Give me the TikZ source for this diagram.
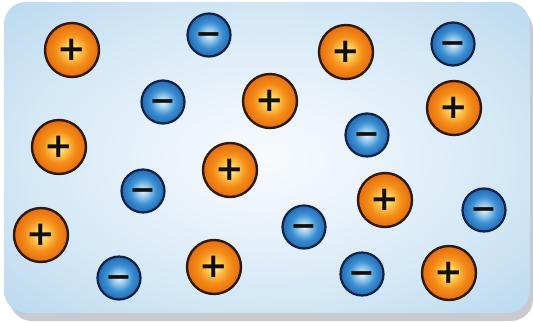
\documentclass[tikz,border=0pt]{standalone}
\usepackage{fontspec}
\newfontfamily\signfont{DejaVu Sans}
\definecolor{shadowgray}{RGB}{200,202,205}
\definecolor{plusrim}{RGB}{45,25,15}
\definecolor{minusrim}{RGB}{15,35,70}
\definecolor{signink}{RGB}{20,15,15}
\pgfdeclareradialshading{panelshade}{\pgfpoint{0bp}{0bp}}{color(0bp)=(rgb,255:red,246;green,250;blue,253); color(8bp)=(rgb,255:red,238;green,245;blue,251); color(23bp)=(rgb,255:red,212;green,232;blue,246); color(36bp)=(rgb,255:red,186;green,216;blue,238); color(50bp)=(rgb,255:red,186;green,216;blue,238)}
\pgfdeclareradialshading{plusshade}{\pgfpoint{0bp}{0bp}}{color(0bp)=(rgb,255:red,255;green,245;blue,200); color(7bp)=(rgb,255:red,253;green,200;blue,80); color(15bp)=(rgb,255:red,245;green,142;blue,25); color(25bp)=(rgb,255:red,230;green,108;blue,15); color(50bp)=(rgb,255:red,230;green,108;blue,15)}
\pgfdeclareradialshading{minusshade}{\pgfpoint{0bp}{0bp}}{color(0bp)=(rgb,255:red,235;green,245;blue,252); color(8bp)=(rgb,255:red,140;green,195;blue,232); color(15bp)=(rgb,255:red,60;green,145;blue,212); color(25bp)=(rgb,255:red,35;green,105;blue,180); color(50bp)=(rgb,255:red,35;green,105;blue,180)}
\newcommand{\chargesign}[1]{\smash{\raisebox{-0.31em}{#1}}}
\tikzset{
  poscharge/.style={circle, minimum size=54pt, inner sep=0pt, draw=plusrim, line width=2.4pt,
    shade, shading=plusshade, text=signink, font=\signfont\bfseries\fontsize{34}{34}\selectfont},
  negcharge/.style={circle, minimum size=43pt, inner sep=0pt, draw=minusrim, line width=2.2pt,
    shade, shading=minusshade, text=signink, font=\signfont\bfseries\fontsize{32}{32}\selectfont},
}
\begin{document}
\begin{tikzpicture}[x=1pt,y=-1pt]
\useasboundingbox (0,0) rectangle (533,322);
\fill[white] (0,0) rectangle (533,322);
\fill[shadowgray, rounded corners=22pt] (10,8) rectangle (533,321);
\shade[shading=panelshade, rounded corners=22pt] (4,2) rectangle (530,313);
% positive charges
\node[poscharge] (p1) at (72,50) {\chargesign{+}};
\node[poscharge] (p2) at (346,52) {\chargesign{+}};
\node[poscharge] (p3) at (270,101) {\chargesign{+}};
\node[poscharge] (p4) at (454,108) {\chargesign{+}};
\node[poscharge] (p5) at (59,147) {\chargesign{+}};
\node[poscharge] (p6) at (230,170) {\chargesign{+}};
\node[poscharge] (p7) at (385,200) {\chargesign{+}};
\node[poscharge] (p8) at (41,235) {\chargesign{+}};
\node[poscharge] (p9) at (214,267) {\chargesign{+}};
\node[poscharge] (p10) at (449,273) {\chargesign{+}};
% negative charges
\node[negcharge] (n1) at (209,35) {\chargesign{−}};
\node[negcharge] (n2) at (453,44) {\chargesign{−}};
\node[negcharge] (n3) at (163,102) {\chargesign{−}};
\node[negcharge] (n4) at (367,135) {\chargesign{−}};
\node[negcharge] (n5) at (143,191) {\chargesign{−}};
\node[negcharge] (n6) at (484,210) {\chargesign{−}};
\node[negcharge] (n7) at (304,227) {\chargesign{−}};
\node[negcharge] (n8) at (119,278) {\chargesign{−}};
\node[negcharge] (n9) at (362,274) {\chargesign{−}};
\end{tikzpicture}
\end{document}
